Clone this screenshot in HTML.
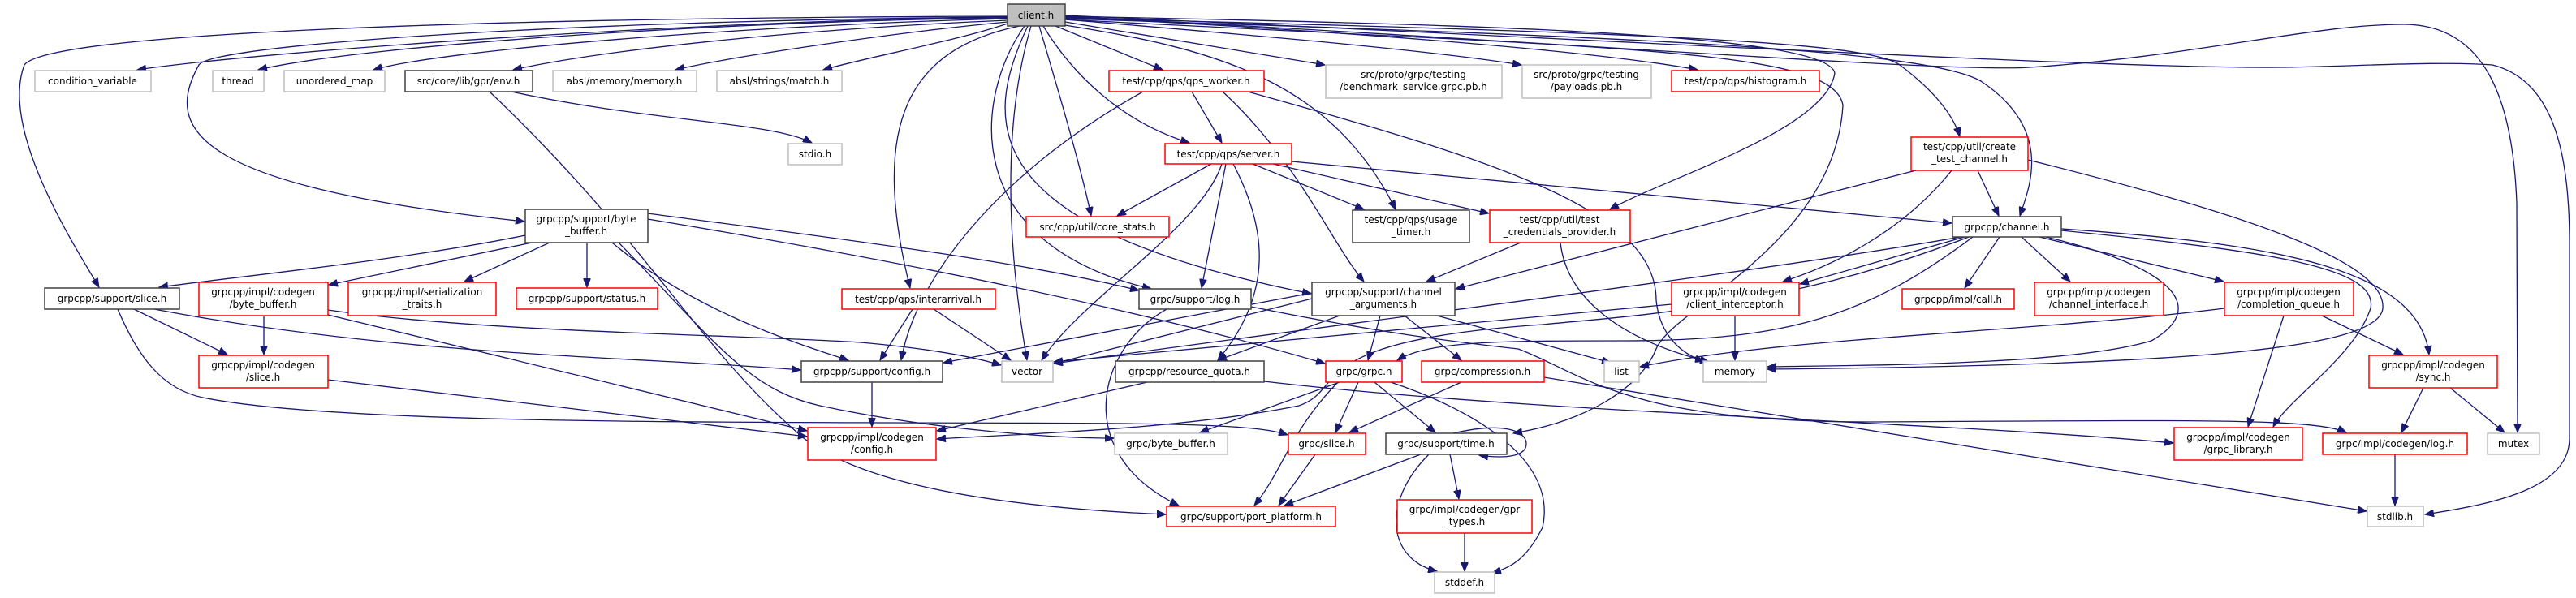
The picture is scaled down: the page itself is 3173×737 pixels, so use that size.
<!DOCTYPE html>
<html><head><meta charset="utf-8"><style>
html,body{margin:0;padding:0;background:#fff;}
svg{display:block;}
text{font-family:"DejaVu Sans","Liberation Sans",sans-serif;font-size:12px;fill:#000;}
.e{fill:none;stroke:#191970;stroke-width:1.3;marker-end:url(#a);}
.r{fill:#fff;stroke:#ff0000;stroke-width:1.5;}
.g{fill:#fff;stroke:#bfbfbf;stroke-width:1.5;}
.k{fill:#fff;stroke:#404040;stroke-width:1.5;}
</style></head><body>
<svg width="3173" height="737" viewBox="0 0 3173 737" xmlns="http://www.w3.org/2000/svg">
<defs><marker id="a" markerUnits="userSpaceOnUse" markerWidth="12" markerHeight="9" refX="11" refY="4.5" orient="auto"><path d="M0,0 L11,4.5 L0,9 z" fill="#191970" stroke="#191970"/></marker></defs>
<g text-anchor="middle">
<!-- edges from client.h -->
<path class="e" d="M1241,21 C900,24 350,60 169,86"/>
<path class="e" d="M1241,22 C900,26 450,55 318,86"/>
<path class="e" d="M1241,23 C950,30 550,60 460,86"/>
<path class="e" d="M1241,25 C1000,35 750,60 632,86"/>
<path class="e" d="M1241,27 C1100,40 900,70 832,86"/>
<path class="e" d="M1241,29 C1180,50 1070,70 1014,86"/>
<path class="e" d="M1241,20 C600,22 60,40 30,80 C0,160 90,300 122,354"/>
<path class="e" d="M1241,21 C700,25 260,55 245,80 C200,160 240,230 646,273"/>
<path class="e" d="M1256,32 C1120,60 1070,150 1121,355"/>
<path class="e" d="M1262,32 C1200,120 1180,300 1418,356"/>
<path class="e" d="M1266,32 C1210,150 1200,280 1615,362"/>
<path class="e" d="M1270,32 C1235,150 1240,300 1265,444"/>
<path class="e" d="M1280,32 C1300,100 1330,200 1344,266"/>
<path class="e" d="M1285,32 C1320,90 1380,150 1465,176"/>
<path class="e" d="M1300,32 L1432,86"/>
<path class="e" d="M1305,30 C1500,60 1640,100 1719,258"/>
<path class="e" d="M1312,27 L1632,80"/>
<path class="e" d="M1312,24 C1500,40 1750,60 1874,80"/>
<path class="e" d="M1312,21 C1600,35 1950,60 2091,86"/>
<path class="e" d="M1312,20 C1800,30 2250,40 2260,90 C2250,160 2050,220 1983,258"/>
<path class="e" d="M1312,22 C2000,40 2300,50 2340,80 C2380,110 2405,140 2414,168"/>
<path class="e" d="M1312,23 C2000,45 2370,60 2440,100 C2530,160 2500,230 2488,266"/>
<path class="e" d="M1312,19 C2000,50 2600,85 2810,83 C2900,82 3000,75 3070,80 C3150,100 3165,200 3165,300 L3165,540 C3165,600 3080,620 2987,634"/>
<path class="e" d="M1312,20 C1900,50 2400,90 2500,83 C2700,70 2850,30 2960,30 C3060,30 3095,120 3100,250 L3101,533"/>
<path class="e" d="M1312,24 C2000,60 2260,60 2270,130 C2260,300 2060,380 2040,430 C2020,480 1950,520 1864,534"/>
<!-- env.h -->
<path class="e" d="M630,113 C800,150 950,150 1000,176"/>
<path class="e" d="M603,113 C800,300 860,430 990,540 C1080,610 1300,628 1436,634"/>
<!-- byte_buffer.h -->
<path class="e" d="M647,290 C500,320 300,340 196,354"/>
<path class="e" d="M655,299 L405,351"/>
<path class="e" d="M677,299 L572,347"/>
<path class="e" d="M723,299 L723,354"/>
<path class="e" d="M754,299 C850,380 970,420 1045,444"/>
<path class="e" d="M762,299 C880,420 920,480 1010,500 C1150,530 1300,540 1372,540"/>
<path class="e" d="M798,263 C1000,290 1250,320 1403,358"/>
<path class="e" d="M798,270 C1100,320 1400,380 1632,448"/>
<!-- support/slice.h -->
<path class="e" d="M165,381 L280,437"/>
<path class="e" d="M190,381 C500,440 800,440 986,456"/>
<path class="e" d="M145,381 C170,440 200,480 250,490 C400,520 800,520 1100,521 C1400,522 1540,520 1586,536"/>
<!-- codegen byte_buffer / slice -->
<path class="e" d="M325,389 L325,437"/>
<path class="e" d="M404,388 L994,531"/>
<path class="e" d="M404,382 C600,410 900,412 1060,422 C1150,430 1200,440 1233,450"/>
<path class="e" d="M404,468 L994,538"/>
<path class="e" d="M1074,471 L1074,526"/>
<!-- interarrival -->
<path class="e" d="M1124,381 L1084,444"/>
<path class="e" d="M1150,381 L1245,444"/>
<!-- log.h -->
<path class="e" d="M1437,381 C1350,430 1320,560 1452,623"/>
<path class="e" d="M1541,378 C1700,410 1780,420 1870,430 C1950,460 2000,520 2300,520 C2700,518 2850,515 2890,533"/>
<!-- channel_arguments -->
<path class="e" d="M1616,361 L1162,447"/>
<path class="e" d="M1616,368 L1298,448"/>
<path class="e" d="M1650,389 L1500,444"/>
<path class="e" d="M1700,389 L1685,444"/>
<path class="e" d="M1730,389 L1800,444"/>
<path class="e" d="M1770,389 L1984,447"/>
<!-- resource_quota -->
<path class="e" d="M1413,471 L1154,531"/>
<path class="e" d="M1557,470 C1900,510 2400,520 2677,546"/>
<!-- grpc.h -->
<path class="e" d="M1650,471 L1478,533"/>
<path class="e" d="M1673,471 L1645,533"/>
<path class="e" d="M1693,471 L1768,533"/>
<path class="e" d="M1648,471 C1590,530 1580,580 1545,623"/>
<path class="e" d="M1713,471 C1800,500 1920,560 1900,650 C1880,690 1860,700 1838,706"/>
<!-- compression -->
<path class="e" d="M1800,471 L1662,533"/>
<path class="e" d="M1902,465 L2915,630"/>
<!-- slice/time/gpr -->
<path class="e" d="M1620,560 L1575,623"/>
<path class="e" d="M1750,560 L1582,623"/>
<path class="e" d="M1786,560 L1797,615"/>
<path class="e" d="M1760,560 C1700,620 1710,690 1770,704"/>
<path class="e" d="M1790,534 C1850,520 1880,530 1880,547 C1880,564 1850,565 1822,561"/>
<path class="e" d="M1804,657 L1804,704"/>
<!-- server.h -->
<path class="e" d="M1492,202 L1376,266"/>
<path class="e" d="M1505,202 C1480,280 1330,370 1283,444"/>
<path class="e" d="M1510,202 L1480,355"/>
<path class="e" d="M1519,202 C1560,280 1570,360 1500,444"/>
<path class="e" d="M1543,202 L1680,258"/>
<path class="e" d="M1568,202 L1834,263"/>
<path class="e" d="M1591,199 L2404,275"/>
<!-- qps_worker -->
<path class="e" d="M1468,113 L1505,176"/>
<path class="e" d="M1408,113 C1250,200 1130,330 1110,444"/>
<path class="e" d="M1506,113 C1600,200 1640,300 1680,347"/>
<path class="e" d="M1537,113 C1850,200 2040,260 2040,370 C2045,420 2080,440 2099,445"/>
<!-- test_credentials -->
<path class="e" d="M1873,299 L1757,347"/>
<path class="e" d="M1922,299 C1930,370 2000,420 2105,446"/>
<!-- create_test_channel -->
<path class="e" d="M2360,210 L1793,356"/>
<path class="e" d="M2436,210 L2462,266"/>
<path class="e" d="M2404,210 C2340,290 2250,330 2196,347"/>
<path class="e" d="M2498,197 C2750,260 2940,320 2935,380 C2930,430 2700,450 2177,455"/>
<!-- channel.h -->
<path class="e" d="M2420,292 L2217,350"/>
<path class="e" d="M2463,292 L2420,355"/>
<path class="e" d="M2490,292 L2550,347"/>
<path class="e" d="M2512,292 L2739,347"/>
<path class="e" d="M2539,282 C2800,300 2980,330 2992,437"/>
<path class="e" d="M2539,284 C2800,310 2930,330 2920,380 C2900,440 2820,490 2800,526"/>
<path class="e" d="M2520,292 C2680,330 2720,380 2650,420 C2550,450 2300,450 2177,452"/>
<path class="e" d="M2415,292 C2200,330 1800,380 1298,448"/>
<path class="e" d="M2430,292 C2300,390 2200,420 2000,420 C1850,420 1760,420 1721,444"/>
<path class="e" d="M2425,292 C2200,380 2000,390 1900,400 C1600,420 1660,480 1600,500 C1450,530 1250,535 1154,541"/>
<!-- client_interceptor / completion_queue -->
<path class="e" d="M2137,389 L2137,444"/>
<path class="e" d="M2059,375 L1298,446"/>
<path class="e" d="M2740,380 C2500,410 2200,415 2020,452"/>
<path class="e" d="M2813,389 L2769,526"/>
<path class="e" d="M2860,389 L2960,437"/>
<!-- sync / log -->
<path class="e" d="M2985,478 L2958,533"/>
<path class="e" d="M3018,478 L3085,533"/>
<path class="e" d="M2950,560 L2950,623"/>

<!-- nodes -->
<rect x="1241" y="5" width="71" height="27" fill="#bfbfbf" stroke="#404040" stroke-width="1.5"/><text x="1276" y="23">client.h</text>
<rect class="g" x="43" y="87" width="143" height="26"/><text x="114" y="104">condition_variable</text>
<rect class="g" x="262" y="87" width="63" height="26"/><text x="293" y="104">thread</text>
<rect class="g" x="350" y="87" width="124" height="26"/><text x="412" y="104">unordered_map</text>
<rect class="k" x="499" y="87" width="157" height="26"/><text x="577" y="104">src/core/lib/gpr/env.h</text>
<rect class="g" x="681" y="87" width="177" height="26"/><text x="769" y="104">absl/memory/memory.h</text>
<rect class="g" x="883" y="87" width="154" height="26"/><text x="960" y="104">absl/strings/match.h</text>
<rect class="g" x="971" y="177" width="66" height="26"/><text x="1004" y="194">stdio.h</text>
<rect class="r" x="1366" y="87" width="191" height="26"/><text x="1461" y="104">test/cpp/qps/qps_worker.h</text>
<rect class="g" x="1633" y="80" width="217" height="41"/><text x="1741" y="96">src/proto/grpc/testing</text><text x="1741" y="111">/benchmark_service.grpc.pb.h</text>
<rect class="g" x="1875" y="80" width="159" height="41"/><text x="1954" y="96">src/proto/grpc/testing</text><text x="1954" y="111">/payloads.pb.h</text>
<rect class="r" x="2059" y="87" width="182" height="26"/><text x="2150" y="104">test/cpp/qps/histogram.h</text>
<rect class="r" x="1435" y="177" width="156" height="25"/><text x="1513" y="194">test/cpp/qps/server.h</text>
<rect class="r" x="2354" y="169" width="144" height="41"/><text x="2426" y="185">test/cpp/util/create</text><text x="2426" y="200">_test_channel.h</text>
<rect class="k" x="647" y="258" width="151" height="41"/><text x="722" y="274">grpcpp/support/byte</text><text x="722" y="289">_buffer.h</text>
<rect class="r" x="1264" y="267" width="176" height="25"/><text x="1352" y="284">src/cpp/util/core_stats.h</text>
<rect class="k" x="1666" y="259" width="144" height="40"/><text x="1738" y="275">test/cpp/qps/usage</text><text x="1738" y="290">_timer.h</text>
<rect class="r" x="1835" y="259" width="173" height="40"/><text x="1921" y="275">test/cpp/util/test</text><text x="1921" y="290">_credentials_provider.h</text>
<rect class="k" x="2405" y="267" width="134" height="25"/><text x="2472" y="284">grpcpp/channel.h</text>
<rect class="k" x="55" y="355" width="166" height="26"/><text x="138" y="372">grpcpp/support/slice.h</text>
<rect class="r" x="245" y="348" width="159" height="41"/><text x="324" y="364">grpcpp/impl/codegen</text><text x="324" y="379">/byte_buffer.h</text>
<rect class="r" x="429" y="348" width="182" height="41"/><text x="520" y="364">grpcpp/impl/serialization</text><text x="520" y="379">_traits.h</text>
<rect class="r" x="636" y="355" width="174" height="26"/><text x="723" y="372">grpcpp/support/status.h</text>
<rect class="r" x="1037" y="356" width="189" height="25"/><text x="1131" y="373">test/cpp/qps/interarrival.h</text>
<rect class="k" x="1403" y="356" width="138" height="25"/><text x="1472" y="373">grpc/support/log.h</text>
<rect class="k" x="1616" y="348" width="176" height="41"/><text x="1704" y="364">grpcpp/support/channel</text><text x="1704" y="379">_arguments.h</text>
<rect class="r" x="2059" y="348" width="157" height="41"/><text x="2137" y="364">grpcpp/impl/codegen</text><text x="2137" y="379">/client_interceptor.h</text>
<rect class="r" x="2343" y="356" width="138" height="25"/><text x="2412" y="373">grpcpp/impl/call.h</text>
<rect class="r" x="2506" y="348" width="159" height="41"/><text x="2585" y="364">grpcpp/impl/codegen</text><text x="2585" y="379">/channel_interface.h</text>
<rect class="r" x="2740" y="348" width="159" height="41"/><text x="2819" y="364">grpcpp/impl/codegen</text><text x="2819" y="379">/completion_queue.h</text>
<rect class="r" x="245" y="438" width="159" height="40"/><text x="324" y="454">grpcpp/impl/codegen</text><text x="324" y="469">/slice.h</text>
<rect class="k" x="987" y="445" width="174" height="26"/><text x="1074" y="462">grpcpp/support/config.h</text>
<rect class="g" x="1234" y="445" width="63" height="26"/><text x="1265" y="462">vector</text>
<rect class="k" x="1374" y="445" width="183" height="26"/><text x="1465" y="462">grpcpp/resource_quota.h</text>
<rect class="r" x="1633" y="445" width="94" height="26"/><text x="1680" y="462">grpc/grpc.h</text>
<rect class="r" x="1751" y="445" width="151" height="26"/><text x="1826" y="462">grpc/compression.h</text>
<rect class="g" x="1976" y="445" width="43" height="26"/><text x="1997" y="462">list</text>
<rect class="g" x="2098" y="445" width="78" height="26"/><text x="2137" y="462">memory</text>
<rect class="r" x="2918" y="438" width="158" height="40"/><text x="2997" y="454">grpcpp/impl/codegen</text><text x="2997" y="469">/sync.h</text>
<rect class="r" x="995" y="527" width="158" height="40"/><text x="1074" y="543">grpcpp/impl/codegen</text><text x="1074" y="558">/config.h</text>
<rect class="g" x="1373" y="534" width="139" height="26"/><text x="1442" y="551">grpc/byte_buffer.h</text>
<rect class="r" x="1587" y="534" width="95" height="26"/><text x="1634" y="551">grpc/slice.h</text>
<rect class="k" x="1707" y="534" width="149" height="26"/><text x="1781" y="551">grpc/support/time.h</text>
<rect class="r" x="2678" y="527" width="158" height="40"/><text x="2757" y="543">grpcpp/impl/codegen</text><text x="2757" y="558">/grpc_library.h</text>
<rect class="r" x="2861" y="534" width="178" height="26"/><text x="2950" y="551">grpc/impl/codegen/log.h</text>
<rect class="g" x="3064" y="534" width="64" height="26"/><text x="3096" y="551">mutex</text>
<rect class="r" x="1437" y="624" width="208" height="25"/><text x="1541" y="641">grpc/support/port_platform.h</text>
<rect class="r" x="1721" y="616" width="166" height="41"/><text x="1804" y="632">grpc/impl/codegen/gpr</text><text x="1804" y="647">_types.h</text>
<rect class="g" x="2916" y="624" width="69" height="25"/><text x="2950" y="641">stdlib.h</text>
<rect class="g" x="1767" y="705" width="74" height="26"/><text x="1804" y="722">stddef.h</text>
</g>
</svg>
</body></html>
